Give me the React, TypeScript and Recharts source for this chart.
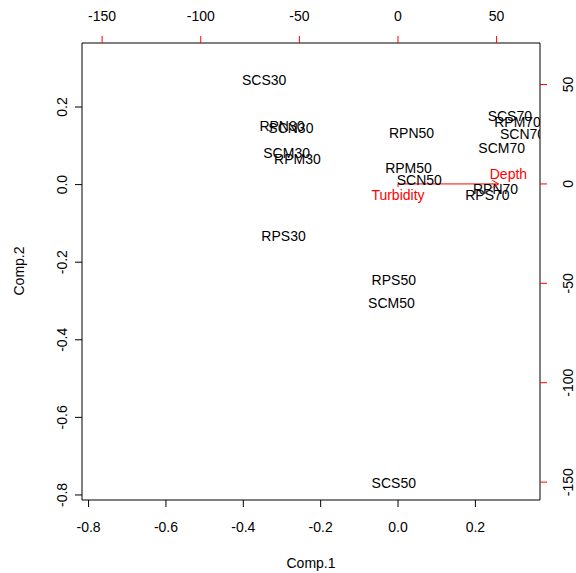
import * as React from "react"
import {
    ScatterChart,
    Scatter,
    XAxis,
    YAxis,
    ReferenceLine,
} from "recharts"

// site scores (Comp.1 / Comp.2)
const sites = [
    "SCS30", "RPN30", "SCN30", "SCM30", "RPM30", "RPS30",
    "RPN50", "RPM50", "SCN50", "RPS50", "SCM50", "SCS50",
    "SCS70", "RPM70", "SCN70", "SCM70", "RPN70", "RPS70",
]
const comp1 = [
    -0.346, -0.300, -0.277, -0.288, -0.260, -0.296,
    0.035, 0.027, 0.055, -0.011, -0.017, -0.011,
    0.289, 0.309, 0.322, 0.268, 0.252, 0.231,
]
const comp2 = [
    0.269, 0.152, 0.146, 0.082, 0.066, -0.133,
    0.134, 0.043, 0.012, -0.246, -0.306, -0.770,
    0.177, 0.162, 0.130, 0.095, -0.012, -0.027,
]

// variable loadings (secondary axes)
const variables = ["Depth", "Turbidity"]
const loadX = [51, 0]
const loadY = [0, -1.5]
const labelX = [56, 0]
const labelY = [5, -5.5]

const primaryTicks = [-0.8, -0.6, -0.4, -0.2, 0, 0.2]
const secondaryTicks = [-150, -100, -50, 0, 50]

const xDomain = [-0.817, 0.367]
const yDomain = [-0.813, 0.365]
const topDomain = [-160.2, 72.0]
const rightDomain = [-159.0, 70.9]

const FONT = "'Liberation Sans', Arial, Helvetica, sans-serif"
const RED = "#ff0000"

const siteData = sites.map((name, i) => ({ name, x: comp1[i], y: comp2[i] }))
const varLabels = variables.map((name, i) => ({ name, x: labelX[i], y: labelY[i] }))
const arrowTips = variables
    .map((name, i) => ({ name, x: loadX[i], y: loadY[i] }))
    .filter(d => Math.hypot(d.x, d.y) > 5)

const fmt = (v: number) => (v === 0 ? "0.0" : v.toFixed(1))

const BottomTick = (p: any) => (
    <text x={p.x} y={p.y + 18} dy="0.35em" textAnchor="middle" fontSize={14} fontFamily={FONT} fill="#000">
        {fmt(p.payload.value)}
    </text>
)
const TopTick = (p: any) => (
    <text x={p.x} y={p.y - 18} dy="0.35em" textAnchor="middle" fontSize={14} fontFamily={FONT} fill="#000">
        {p.payload.value}
    </text>
)
const LeftTick = (p: any) => (
    <text transform={`translate(${p.x - 11},${p.y}) rotate(-90)`} dy="0.35em" textAnchor="middle" fontSize={14} fontFamily={FONT} fill="#000">
        {fmt(p.payload.value)}
    </text>
)
const RightTick = (p: any) => (
    <text transform={`translate(${p.x + 19},${p.y}) rotate(-90)`} dy="0.35em" textAnchor="middle" fontSize={14} fontFamily={FONT} fill="#000">
        {p.payload.value}
    </text>
)

const SiteLabel = (p: any) => (
    <text x={p.cx} y={p.cy} dy="0.35em" textAnchor="middle" fontSize={14} fontFamily={FONT} fill="#000">
        {p.payload.name}
    </text>
)
const VarLabel = (p: any) => (
    <text x={p.cx} y={p.cy} dy="0.35em" textAnchor="middle" fontSize={14} fontFamily={FONT} fill={RED}>
        {p.payload.name}
    </text>
)
const ArrowHead = (p: any) => {
    const a = Math.atan2(-p.payload.y, p.payload.x)
    const len = 7.2
    const s = Math.PI / 6
    const x1 = p.cx - len * Math.cos(a - s)
    const y1 = p.cy - len * Math.sin(a - s)
    const x2 = p.cx - len * Math.cos(a + s)
    const y2 = p.cy - len * Math.sin(a + s)
    return (
        <path d={`M${x1},${y1}L${p.cx},${p.cy}L${x2},${y2}`} stroke={RED} fill="none" strokeWidth={1} />
    )
}

export default function App() {
    return (
        <div style={{ position: "absolute", left: 0, top: 0, background: "#fff" }}>
            <ScatterChart width={576} height={573} margin={{ top: 0, right: 0, bottom: 0, left: 0 }}>
                <XAxis
                    xAxisId="bottom"
                    dataKey="x"
                    type="number"
                    orientation="bottom"
                    domain={xDomain}
                    ticks={primaryTicks}
                    allowDataOverflow
                    height={73}
                    tickSize={7}
                    axisLine={{ stroke: "#000" }}
                    tickLine={{ stroke: "#000" }}
                    tick={BottomTick}
                    label={{
                        content: (lp: any) => (
                            <text x={311} y={563} dy="0.35em" textAnchor="middle" fontSize={14} fontFamily={FONT} fill="#000">
                                Comp.1
                            </text>
                        ),
                    }}
                />
                <XAxis
                    xAxisId="top"
                    dataKey="x"
                    type="number"
                    orientation="top"
                    domain={topDomain}
                    ticks={secondaryTicks}
                    allowDataOverflow
                    height={43}
                    tickSize={7}
                    axisLine={{ stroke: "#000" }}
                    tickLine={{ stroke: RED }}
                    tick={TopTick}
                />
                <YAxis
                    yAxisId="left"
                    dataKey="y"
                    type="number"
                    orientation="left"
                    domain={yDomain}
                    ticks={primaryTicks}
                    allowDataOverflow
                    width={82}
                    tickSize={7}
                    axisLine={{ stroke: "#000" }}
                    tickLine={{ stroke: "#000" }}
                    tick={LeftTick}
                    label={{
                        content: (lp: any) => (
                            <text transform="translate(19,271) rotate(-90)" dy="0.35em" textAnchor="middle" fontSize={14} fontFamily={FONT} fill="#000">
                                Comp.2
                            </text>
                        ),
                    }}
                />
                <YAxis
                    yAxisId="right"
                    dataKey="y"
                    type="number"
                    orientation="right"
                    domain={rightDomain}
                    ticks={secondaryTicks}
                    allowDataOverflow
                    width={36}
                    tickSize={7}
                    axisLine={{ stroke: "#000" }}
                    tickLine={{ stroke: RED }}
                    tick={RightTick}
                />
                <Scatter
                    xAxisId="bottom"
                    yAxisId="left"
                    data={siteData}
                    shape={SiteLabel}
                    isAnimationActive={false}
                />
                {variables.map((v, i) => (
                    <ReferenceLine
                        key={v}
                        xAxisId="top"
                        yAxisId="right"
                        segment={[{ x: 0, y: 0 }, { x: loadX[i], y: loadY[i] }]}
                        stroke={RED}
                        strokeWidth={1}
                    />
                ))}
                <Scatter
                    xAxisId="top"
                    yAxisId="right"
                    data={arrowTips}
                    shape={ArrowHead}
                    isAnimationActive={false}
                />
                <Scatter
                    xAxisId="top"
                    yAxisId="right"
                    data={varLabels}
                    shape={VarLabel}
                    isAnimationActive={false}
                />
            </ScatterChart>
        </div>
    )
}
